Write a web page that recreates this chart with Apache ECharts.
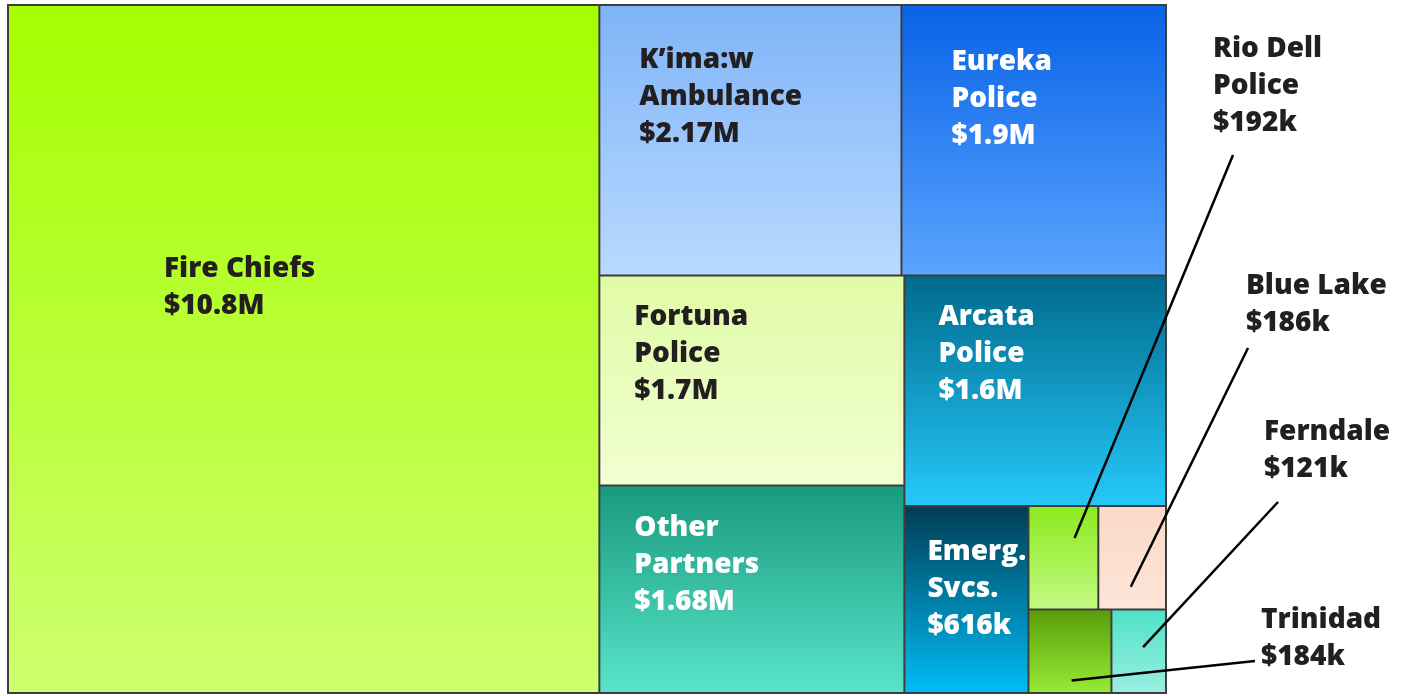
<!DOCTYPE html>
<html>
<head>
<meta charset="utf-8">
<script src="https://cdn.jsdelivr.net/npm/echarts@6/dist/echarts.min.js"></script>
<style>
  html, body { margin: 0; background: #fff; }
  #container { width: 1407px; height: 696px; }
</style>
</head>
<body>
<div id="container"></div>
<script>
  // funding per partner, in millions of dollars
  const names = ['Fire Chiefs', 'K’ima:w\nAmbulance', 'Eureka\nPolice', 'Fortuna\nPolice', 'Arcata\nPolice',
    'Other\nPartners', 'Emerg.\nSvcs.', 'Rio Dell\nPolice', 'Blue Lake', 'Trinidad', 'Ferndale'];
  const values = [10.8, 2.17, 1.9, 1.7, 1.6, 1.68, 0.616, 0.192, 0.186, 0.184, 0.121];
  const valueLabels = ['$10.8M', '$2.17M', '$1.9M', '$1.7M', '$1.6M', '$1.68M', '$616k', '$192k', '$186k', '$184k', '$121k'];

  // gradient of each box, top -> bottom
  const topColors = ['#a5ff00', '#7fb4f8', '#0863e6', '#e0fba6', '#006a8c', '#199a7e', '#013e55', '#8bea20', '#fad9c6', '#5a9e0c', '#4fe2c8'];
  const bottomColors = ['#cdff6e', '#b9d9ff', '#5aa4ff', '#f1ffd2', '#25c8fa', '#58e4ca', '#00bcf5', '#c3f982', '#fde5d8', '#96ea34', '#9aeee0'];
  const textColors = ['#231f20', '#231f20', '#fff', '#231f20', '#fff', '#fff', '#fff'];
  // label offset inside the box (only big boxes carry their own label)
  const labelOffsets = [[155, 245], [39, 36], [49, 38], [34, 22], [33, 22], [34, 23], [22, 27]];

  // small boxes are labelled outside, with a leader line
  // tx/ty: text corner, fx/fy: where the line starts in the box, ex/ey: where it ends
  const callouts = {
    'Rio Dell\nPolice': {tx: 1213, ty: 31, fx: 0.66, fy: 0.31, ex: 1233, ey: 155},
    'Blue Lake': {tx: 1246, ty: 268, fx: 0.48, fy: 0.78, ex: 1248, ey: 348},
    'Ferndale': {tx: 1264, ty: 414, fx: 0.58, fy: 0.45, ex: 1278, ey: 502},
    'Trinidad': {tx: 1261, ty: 602, fx: 0.52, fy: 0.85, ex: 1255, ey: 661}
  };

  const FONT = '"Open Sans"';
  const FONT_SIZE = 28;
  const FONT_WEIGHT = 800;
  const LEFT = 7, TOP = 4;

  let chart = echarts.init(document.getElementById('container'));

  let seriesData = names.map(function (name, i) {
    let item = {
      name: name,
      value: values[i],
      display: name + '\n' + valueLabels[i],
      itemStyle: {
        color: {
          type: 'linear', x: 0, y: 0, x2: 0, y2: 1,
          colorStops: [{offset: 0, color: topColors[i]}, {offset: 1, color: bottomColors[i]}]
        }
      }
    };
    if (labelOffsets[i]) {
      item.label = {show: true, position: labelOffsets[i], color: textColors[i]};
    } else {
      item.label = {show: false};
    }
    return item;
  });

  chart.setOption({
    animation: false,
    series: [{
      type: 'treemap',
      left: LEFT,
      top: TOP,
      width: 1160,
      height: 690,
      roam: false,
      nodeClick: false,
      squareRatio: 1,
      breadcrumb: {show: false},
      itemStyle: {borderColor: '#3d3d3d', borderWidth: 1, gapWidth: 0},
      emphasis: {disabled: true},
      label: {
        padding: 0,
        overflow: 'none',
        fontFamily: FONT,
        fontWeight: FONT_WEIGHT,
        fontSize: FONT_SIZE,
        lineHeight: 37,
        formatter: function (p) { return p.data.display; }
      },
      data: seriesData
    }]
  });

  // leader lines start from the boxes that the treemap laid out
  let data = chart.getModel().getSeriesByIndex(0).getData();
  let graphics = [];
  data.each(function (idx) {
    let name = data.getName(idx);
    let c = callouts[name];
    if (!c) return;
    let box = data.getItemLayout(idx);
    let i = names.indexOf(name);
    let sx = LEFT + box.x + box.width * c.fx;
    let sy = TOP + box.y + box.height * c.fy;
    graphics.push({
      type: 'line',
      shape: {x1: sx, y1: sy, x2: c.ex, y2: c.ey},
      style: {stroke: '#000', lineWidth: 2.5},
      z: 100
    });
    graphics.push({
      type: 'text',
      x: c.tx,
      y: c.ty,
      style: {
        text: name + '\n' + valueLabels[i],
        fill: '#231f20',
        fontFamily: FONT,
        fontWeight: FONT_WEIGHT,
        fontSize: FONT_SIZE,
        lineHeight: 37,
        textVerticalAlign: 'top'
      },
      z: 100
    });
  });
  chart.setOption({graphic: graphics});
</script>
</body>
</html>
